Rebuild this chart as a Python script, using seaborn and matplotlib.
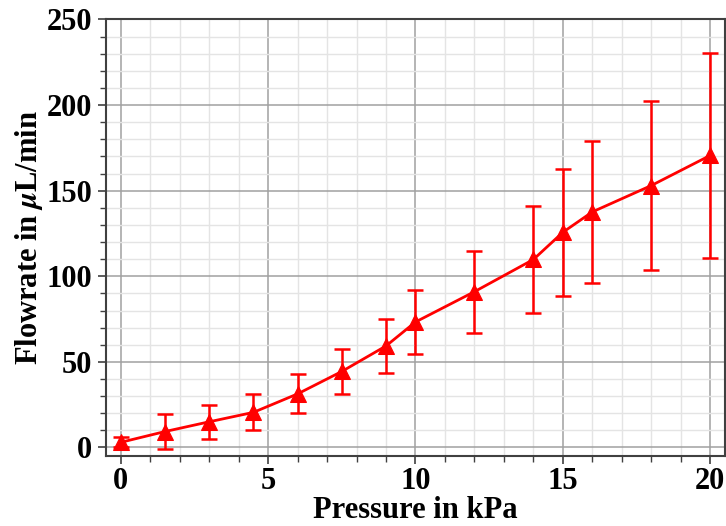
import numpy as np
import pandas as pd
import seaborn as sns
import matplotlib
matplotlib.use("Agg")
import matplotlib.pyplot as plt
from matplotlib.ticker import MultipleLocator

pressure = [0, 1.5, 3, 4.5, 6, 7.5, 9, 10, 12, 14, 15, 16, 18, 20]
flowrate = [3, 9.3, 15, 20.5, 31.3, 44.4, 59.3, 73.3, 91, 109.8, 125.7, 137.6, 153, 170.6]
flow_err = [3, 10, 10, 10.5, 11.4, 12.9, 16, 18.5, 24, 31.5, 37, 41.6, 49.6, 59.8]

sns.set_theme(style="white")
plt.rcParams['font.family'] = ['Liberation Serif', 'DejaVu Serif']
plt.rcParams['font.weight'] = 'bold'
plt.rcParams['mathtext.fontset'] = 'stix'
plt.rcParams['text.color'] = 'black'
plt.rcParams['axes.labelcolor'] = 'black'

df = pd.DataFrame({"Pressure": pressure, "Flowrate": flowrate, "err": flow_err})

fig = plt.figure(figsize=(7.26, 5.26), dpi=100)
ax = fig.add_axes([0.146, 0.133, 0.8526, 0.830])

ax.set_xlim(-0.5, 20.5)
ax.set_ylim(-5, 250)
ax.xaxis.set_major_locator(MultipleLocator(5))
ax.xaxis.set_minor_locator(MultipleLocator(1))
ax.yaxis.set_major_locator(MultipleLocator(50))
ax.yaxis.set_minor_locator(MultipleLocator(10))
ax.grid(which='major', color='#a0a0a0', linewidth=1.1)
ax.grid(which='minor', color='#e4e4e4', linewidth=1.0)
ax.set_axisbelow(True)

ax.errorbar(df["Pressure"], df["Flowrate"], yerr=df["err"], fmt='none',
            ecolor='#ff0000', elinewidth=1.8, capsize=6, capthick=1.8, zorder=3)
sns.lineplot(data=df, x="Pressure", y="Flowrate", ax=ax, color='#ff0000',
             marker='^', markersize=11, markeredgecolor='#ff0000',
             linewidth=2, zorder=4, legend=False)

for s in ax.spines.values():
    s.set_color('#404040')
    s.set_linewidth(1.5)
    s.set_visible(True)

ax.tick_params(which='both', direction='out', bottom=True, left=True,
               top=False, right=False, color='#404040')
ax.tick_params(which='major', length=6, width=1.2, labelsize=22, labelcolor='black')
ax.tick_params(which='minor', length=4, width=1.0)
ax.tick_params(axis='x', which='major', pad=2)
ax.tick_params(axis='y', which='major', pad=4)
for lab in ax.get_xticklabels() + ax.get_yticklabels():
    lab.set_fontweight('bold')

ax.set_xlabel("Pressure in kPa", fontsize=22, fontweight='bold', labelpad=0, color='black')
ax.set_ylabel(r"Flowrate in $\mu$L/min", fontsize=22, fontweight='bold', labelpad=1, color='black')

fig.savefig("out.png", dpi=100)
